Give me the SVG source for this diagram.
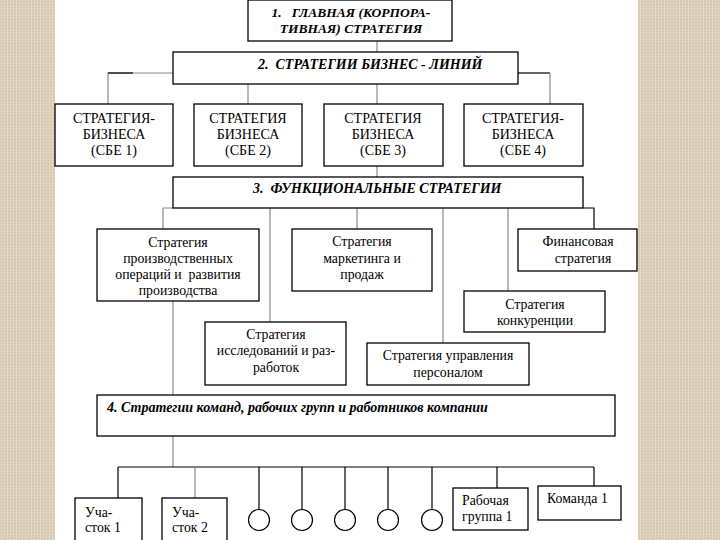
<svg xmlns="http://www.w3.org/2000/svg" width="720" height="540" viewBox="0 0 720 540">
<defs>
<pattern id="tex" width="6" height="6" patternUnits="userSpaceOnUse">
<rect width="6" height="6" fill="#dbcfba"/>
<path d="M0 1.5H6M0 4.5H6" stroke="#cfc1a8" stroke-width="0.8"/>
<path d="M1.5 0V6M4.5 0V6" stroke="#e6dccb" stroke-width="0.8"/>
</pattern>
<style>
text{font-family:'Liberation Serif','Times New Roman','DejaVu Serif',serif;fill:#000}
.box{fill:#fff;stroke:#000;stroke-width:1.3}
.t{font-size:14px}
.f{font-size:13.8px}
.h{font-size:13.5px;font-style:italic;font-weight:bold}
.h2{font-size:14px;font-style:italic;font-weight:bold}
.g{stroke:#8a8a8a;stroke-width:1.2;fill:none}
.k{stroke:#000;stroke-width:1.2;fill:none}
.c{fill:#fff;stroke:#000;stroke-width:1.2}
</style>
</defs>
<rect width="720" height="540" fill="#fff"/>
<rect x="0" y="0" width="55" height="540" fill="url(#tex)"/>
<rect x="638" y="0" width="82" height="540" fill="url(#tex)"/>

<g id="connectors">
<path class="g" d="M377 41V52"/>
<path class="g" d="M173 73H108V104"/>
<path class="k" d="M108 73H133" stroke-width="2"/>
<path class="k" d="M518 73H550" stroke-width="2"/>
<path class="g" d="M550 73V104"/>
<path class="g" d="M248 84V104"/>
<path class="g" d="M377 84V104"/>
<path class="g" d="M377 166V177"/>
<path class="g" d="M173 208H163V229"/>
<path class="g" d="M270 208V322"/>
<path class="g" d="M357 208V229"/>
<path class="g" d="M443 208V343"/>
<path class="g" d="M508 208V291"/>
<path class="k" d="M583 208H594V229"/>
<path class="g" d="M173 301V395"/>
<path class="g" d="M173 436V467"/>
<path class="k" d="M118 467H594"/>
<path class="k" d="M118 467V498"/>
<path class="g" d="M195 467V498"/>
<path class="k" d="M259 467V509M302 467V509M345 467V509M388 467V509M432 467V509"/>
<path class="k" d="M497 467V488"/>
<path class="k" d="M594 467V486"/>
</g>

<g id="n1"><rect class="box" x="248" y="0" width="204" height="41"/>
<text class="h" x="351" y="17" text-anchor="middle" xml:space="preserve">1.   ГЛАВНАЯ (КОРПОРА-</text>
<text class="h" x="351" y="33" text-anchor="middle">ТИВНАЯ) СТРАТЕГИЯ</text></g>

<g id="n2"><rect class="box" x="173" y="52" width="345" height="32"/>
<text class="h2" x="258" y="69" xml:space="preserve">2.  СТРАТЕГИИ БИЗНЕС - ЛИНИЙ</text></g>

<g id="sbe1"><rect class="box" x="55" y="104" width="118" height="62"/>
<text class="t" x="114" y="123" text-anchor="middle">СТРАТЕГИЯ-</text>
<text class="t" x="114" y="139" text-anchor="middle">БИЗНЕСА</text>
<text class="t" x="114" y="155" text-anchor="middle">(СБЕ 1)</text></g>

<g id="sbe2"><rect class="box" x="194" y="104" width="108" height="62"/>
<text class="t" x="248" y="123" text-anchor="middle">СТРАТЕГИЯ</text>
<text class="t" x="248" y="139" text-anchor="middle">БИЗНЕСА</text>
<text class="t" x="248" y="155" text-anchor="middle">(СБЕ 2)</text></g>

<g id="sbe3"><rect class="box" x="324" y="104" width="119" height="62"/>
<text class="t" x="383" y="123" text-anchor="middle">СТРАТЕГИЯ</text>
<text class="t" x="383" y="139" text-anchor="middle">БИЗНЕСА</text>
<text class="t" x="383" y="155" text-anchor="middle">(СБЕ 3)</text></g>

<g id="sbe4"><rect class="box" x="464" y="104" width="119" height="62"/>
<text class="t" x="523" y="123" text-anchor="middle">СТРАТЕГИЯ-</text>
<text class="t" x="523" y="139" text-anchor="middle">БИЗНЕСА</text>
<text class="t" x="523" y="155" text-anchor="middle">(СБЕ 4)</text></g>

<g id="n3"><rect class="box" x="173" y="177" width="410" height="31"/>
<text class="h2" x="253" y="193" xml:space="preserve">3.  ФУНКЦИОНАЛЬНЫЕ СТРАТЕГИИ</text></g>

<g id="prod"><rect class="box" x="97" y="229" width="162" height="72"/>
<text class="f" x="178" y="247" text-anchor="middle">Стратегия</text>
<text class="f" x="178" y="263" text-anchor="middle">производственных</text>
<text class="f" x="178" y="279" text-anchor="middle" xml:space="preserve">операций и  развития</text>
<text class="f" x="178" y="295" text-anchor="middle">производства</text></g>

<g id="rnd"><rect class="box" x="205" y="322" width="141" height="63"/>
<text class="f" x="276" y="339" text-anchor="middle">Стратегия</text>
<text class="f" x="276" y="355" text-anchor="middle">исследований и раз-</text>
<text class="f" x="276" y="372" text-anchor="middle">работок</text></g>

<g id="mkt"><rect class="box" x="292" y="229" width="140" height="62"/>
<text class="f" x="362" y="246" text-anchor="middle">Стратегия</text>
<text class="f" x="362" y="263" text-anchor="middle">маркетинга и</text>
<text class="f" x="362" y="279" text-anchor="middle">продаж</text></g>

<g id="hr"><rect class="box" x="367" y="343" width="162" height="42"/>
<text class="f" x="448" y="360" text-anchor="middle">Стратегия управления</text>
<text class="f" x="448" y="377" text-anchor="middle">персоналом</text></g>

<g id="comp"><rect class="box" x="464" y="291" width="141" height="41"/>
<text class="f" x="535" y="309" text-anchor="middle">Стратегия</text>
<text class="f" x="535" y="325" text-anchor="middle">конкуренции</text></g>

<g id="fin"><rect class="box" x="518" y="229" width="119" height="42"/>
<text class="f" x="578" y="246" text-anchor="middle">Финансовая</text>
<text class="f" x="583" y="263" text-anchor="middle">стратегия</text></g>

<g id="n4"><rect class="box" x="97" y="395" width="518" height="41"/>
<text class="h2" x="107" y="412">4. Стратегии команд, рабочих групп и работников компании</text></g>

<g id="u1"><rect class="box" x="75" y="498" width="67" height="50"/>
<text class="f" x="85" y="517">Уча-</text>
<text class="f" x="85" y="532">сток 1</text></g>

<g id="u2"><rect class="box" x="162" y="498" width="65" height="50"/>
<text class="f" x="172" y="517">Уча-</text>
<text class="f" x="172" y="532">сток 2</text></g>

<g id="c1"><circle class="c" cx="259" cy="520" r="10.5"/></g>
<g id="c2"><circle class="c" cx="302" cy="520" r="10.5"/></g>
<g id="c3"><circle class="c" cx="345" cy="520" r="10.5"/></g>
<g id="c4"><circle class="c" cx="388" cy="520" r="10.5"/></g>
<g id="c5"><circle class="c" cx="432" cy="520" r="10.5"/></g>

<g id="wg1"><rect class="box" x="453" y="488" width="75" height="42"/>
<text class="f" x="462" y="505">Рабочая</text>
<text class="f" x="462" y="521">группа 1</text></g>

<g id="team1"><rect class="box" x="538" y="486" width="83" height="34"/>
<text class="f" x="547" y="503">Команда 1</text></g>
</svg>
